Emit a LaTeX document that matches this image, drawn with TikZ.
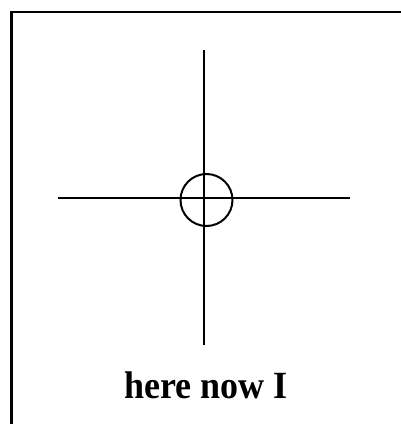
\documentclass[tikz,border=0pt]{standalone}
\usepackage{fontspec}
\setmainfont{Liberation Serif}
\begin{document}
\begin{tikzpicture}[x=1pt,y=-1pt,
  frameline/.style={line width=2.2pt},
  crossline/.style={line width=2pt}]
\useasboundingbox (0,0) rectangle (401,424);
\coordinate (tl) at (11.5,12);
\coordinate (tr) at (401,12);
\coordinate (bl) at (11.5,424);
\draw[frameline] (tr) -- (tl) -- (bl);
\coordinate (vt) at (204,50);
\coordinate (vb) at (204,345);
\coordinate (hl) at (58,197.5);
\coordinate (hr) at (350,197.5);
\draw[crossline] (vt) -- (vb);
\draw[crossline] (hl) -- (hr);
\node[draw,circle,crossline,minimum size=52pt,inner sep=0pt] (c) at (206.5,200) {};
\node[font=\bfseries\fontsize{36}{40}\selectfont,anchor=base,yscale=1.07] (t) at (206,398) {here now I};
\end{tikzpicture}
\end{document}
